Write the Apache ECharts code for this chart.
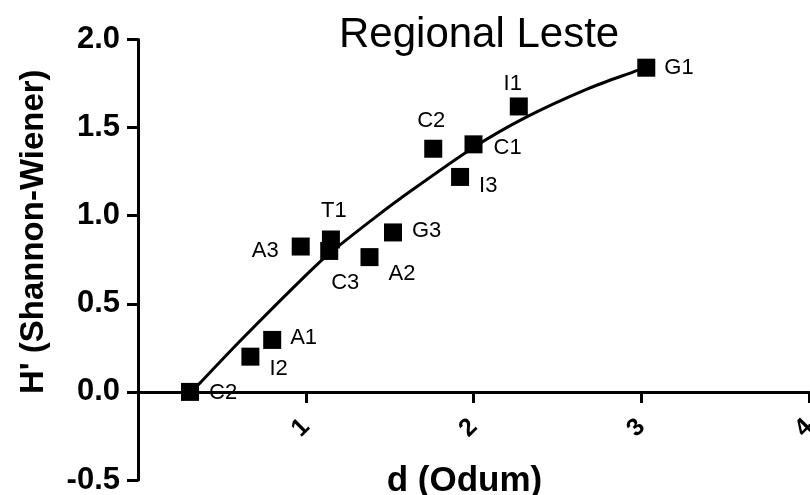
<!DOCTYPE html>
<html>
<head>
<meta charset="utf-8">
<script src="https://cdn.jsdelivr.net/npm/echarts@6/dist/echarts.min.js"></script>
<style>
	html, body { margin: 0; padding: 0; background: #fff; }
	#chart { width: 810px; height: 495px; }
</style>
</head>
<body>
<div id="chart"></div>
<script>
// sample plots
var siteNames = ["C2", "I2", "A1", "A3", "T1", "C3", "A2", "G3", "C2", "I3", "C1", "I1", "G1"];
var dOdum = [0.31, 0.67, 0.80, 0.97, 1.15, 1.14, 1.38, 1.52, 1.76, 1.92, 2.00, 2.27, 3.03];
var hShannon = [0.00, 0.20, 0.295, 0.825, 0.865, 0.80, 0.765, 0.905, 1.38, 1.22, 1.405, 1.62, 1.84];

// fitted curve
var curveX = [0.32, 0.62, 1.02, 1.16, 1.42, 1.56, 2.00, 2.32, 2.68, 2.95, 3.03];
var curveY = [0.00, 0.30, 0.68, 0.80, 0.995, 1.095, 1.387, 1.562, 1.72, 1.815, 1.84];

var xTicks = [0, 1, 2, 3, 4];
var yTicks = [-0.5, 0.0, 0.5, 1.0, 1.5, 2.0];

// where each point label sits
var labelPlace = [
	{ position: 'right', distance: 10, offset: [0, 1] },
	{ position: 'right', distance: 10, offset: [0, 12] },
	{ position: 'right', distance: 9, offset: [0, -2] },
	{ position: 'left', distance: 13, offset: [0, 4] },
	{ position: 'top', distance: 9, offset: [3, 0] },
	{ position: 'bottom', distance: 12, offset: [16, 0] },
	{ position: 'right', distance: 10, offset: [0, 17] },
	{ position: 'right', distance: 10, offset: [0, -2] },
	{ position: 'top', distance: 8, offset: [-2, 0] },
	{ position: 'right', distance: 10, offset: [0, 9] },
	{ position: 'right', distance: 11, offset: [0, 4] },
	{ position: 'top', distance: 3, offset: [-6, 0] },
	{ position: 'right', distance: 9, offset: [0, 0] },
];

var font = "'Liberation Sans', Arial, sans-serif";

var points = [];
for (var i = 0; i < siteNames.length; i++) {
	points.push({
		value: [dOdum[i], hShannon[i]],
		name: siteNames[i],
		label: labelPlace[i],
	});
}

var curve = [];
for (var i = 0; i < curveX.length; i++) {
	curve.push([curveX[i], curveY[i]]);
}

var myChart = echarts.init(document.getElementById("chart"), null, { renderer: 'canvas' });

var option = {
	animation: false,
	title: {
		text: 'Regional Leste',
		left: 334,
		top: 9,
		textStyle: {
			fontFamily: font,
			fontSize: 42,
			fontWeight: 'normal',
			color: '#000',
		},
	},
	grid: {
		left: 138,
		right: 1,
		top: 39.5,
		bottom: 15,
		containLabel: false,
		outerBoundsMode: 'none',
	},
	xAxis: {
		type: 'value',
		min: xTicks[0],
		max: xTicks[xTicks.length - 1],
		interval: 1,
		name: 'd (Odum)',
		nameLocation: 'middle',
		nameGap: -16,
		nameTextStyle: {
			fontFamily: font,
			fontSize: 35,
			fontWeight: 'bold',
			color: '#000',
			padding: [0, 18, 0, 0],
		},
		splitLine: { show: false },
		axisLine: { onZero: true, lineStyle: { color: '#000', width: 3 } },
		axisTick: { length: 11, lineStyle: { color: '#000', width: 3 } },
		axisLabel: {
			rotate: 45,
			margin: -57,
			fontFamily: font,
			fontSize: 25,
			fontWeight: 'bold',
			color: '#000',
			formatter: function(v) {
				return v == 0 ? '' : String(v);
			},
		},
	},
	yAxis: {
		type: 'value',
		min: yTicks[0],
		max: yTicks[yTicks.length - 1],
		interval: 0.5,
		name: "H' (Shannon-Wiener)",
		nameLocation: 'middle',
		nameRotate: 90,
		nameGap: 88,
		nameTextStyle: {
			fontFamily: font,
			fontSize: 33,
			fontWeight: 'bold',
			color: '#000',
			padding: [0, 0, 0, 56],
		},
		splitLine: { show: false },
		axisLine: { onZero: false, lineStyle: { color: '#000', width: 3 } },
		axisTick: { length: 11, lineStyle: { color: '#000', width: 3 } },
		axisLabel: {
			margin: 18,
			fontFamily: font,
			fontSize: 31,
			fontWeight: 'bold',
			color: '#000',
			formatter: function(v) {
				return v.toFixed(1);
			},
		},
	},
	series: [
		{
			type: 'line',
			data: curve,
			smooth: 0.3,
			showSymbol: false,
			lineStyle: { color: '#000', width: 3, opacity: 1 },
			z: 2,
		},
		{
			type: 'scatter',
			data: points,
			symbol: 'rect',
			symbolSize: 18,
			itemStyle: { color: '#000', opacity: 1 },
			label: {
				show: true,
				formatter: '{b}',
				fontFamily: font,
				fontSize: 22,
				color: '#000',
			},
			z: 3,
		},
	],
};

option && myChart.setOption(option);
</script>
</body>
</html>
